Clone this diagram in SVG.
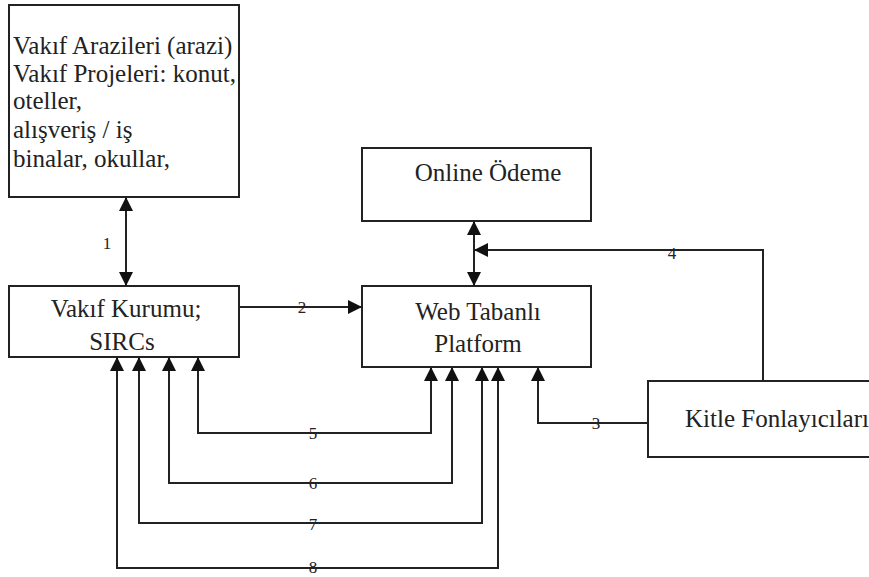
<svg xmlns="http://www.w3.org/2000/svg" width="869" height="577" viewBox="0 0 869 577">
  <style>
    .box { fill: #fff; stroke: #222; stroke-width: 2; }
    text { font-family: "Liberation Serif", "DejaVu Serif", "Times New Roman", Times, serif; fill: #222; }
    .txt { font-size: 25px; }
    .num { font-size: 17px; text-anchor: middle; }
    .ln { fill: none; stroke: #222; stroke-width: 2; }
  </style>
  <defs>
    <marker id="ah" viewBox="0 0 14 14" refX="13" refY="7" markerWidth="14" markerHeight="14" markerUnits="userSpaceOnUse" orient="auto-start-reverse">
      <path d="M0,0 L14,7 L0,14 Z" fill="#111"/>
    </marker>
  </defs>
  <rect width="869" height="577" fill="#fff"/>

  <g id="vakif-arazileri">
    <rect class="box" x="9" y="5" width="230" height="192"/>
    <text class="txt" x="13" y="54">Vakıf Arazileri (arazi)</text>
    <text class="txt" x="13" y="82">Vakıf Projeleri: konut,</text>
    <text class="txt" x="13" y="109">oteller,</text>
    <text class="txt" x="13" y="138">alışveriş / iş</text>
    <text class="txt" x="13" y="167">binalar, okullar,</text>
  </g>

  <g id="vakif-kurumu">
    <rect class="box" x="9" y="286" width="230" height="71"/>
    <text class="txt" x="126" y="317" text-anchor="middle">Vakıf Kurumu;</text>
    <text class="txt" x="122" y="350" text-anchor="middle">SIRCs</text>
  </g>

  <g id="online-odeme">
    <rect class="box" x="362" y="148" width="229" height="73"/>
    <text class="txt" x="488" y="181" text-anchor="middle">Online Ödeme</text>
  </g>

  <g id="web-platform">
    <rect class="box" x="362" y="286" width="229" height="81"/>
    <text class="txt" x="478" y="320" text-anchor="middle">Web Tabanlı</text>
    <text class="txt" x="478" y="352" text-anchor="middle">Platform</text>
  </g>

  <g id="kitle-fonlayicilari">
    <rect class="box" x="648" y="381" width="240" height="76"/>
    <text class="txt" x="685" y="427">Kitle Fonlayıcıları</text>
  </g>

  <g id="connectors">
    <!-- 1: land/projects <-> foundation -->
    <path class="ln" d="M126,198 L126,285" marker-start="url(#ah)" marker-end="url(#ah)"/>
    <text class="num" x="107" y="249">1</text>
    <!-- 2: foundation -> platform -->
    <path class="ln" d="M239,307 L361,307" marker-end="url(#ah)"/>
    <text class="num" x="302" y="313">2</text>
    <!-- online payment <-> platform -->
    <path class="ln" d="M474,222 L474,285" marker-start="url(#ah)" marker-end="url(#ah)"/>
    <!-- 4: funders -> payment link -->
    <path class="ln" d="M763,381 L763,250 L475,250" marker-end="url(#ah)"/>
    <text class="num" x="672" y="259">4</text>
    <!-- 3: funders -> platform -->
    <path class="ln" d="M648,423 L538,423 L538,368" marker-end="url(#ah)"/>
    <text class="num" x="596" y="429">3</text>
    <!-- 5-8: platform <-> foundation -->
    <path class="ln" d="M198,358 L198,433 L431,433 L431,368" marker-start="url(#ah)" marker-end="url(#ah)"/>
    <text class="num" x="313" y="439">5</text>
    <path class="ln" d="M169,358 L169,483 L452,483 L452,368" marker-start="url(#ah)" marker-end="url(#ah)"/>
    <text class="num" x="313" y="489">6</text>
    <path class="ln" d="M139,358 L139,523 L482,523 L482,368" marker-start="url(#ah)" marker-end="url(#ah)"/>
    <text class="num" x="313" y="530">7</text>
    <path class="ln" d="M117,358 L117,568 L498,568 L498,368" marker-start="url(#ah)" marker-end="url(#ah)"/>
    <text class="num" x="313" y="573">8</text>
  </g>
</svg>
